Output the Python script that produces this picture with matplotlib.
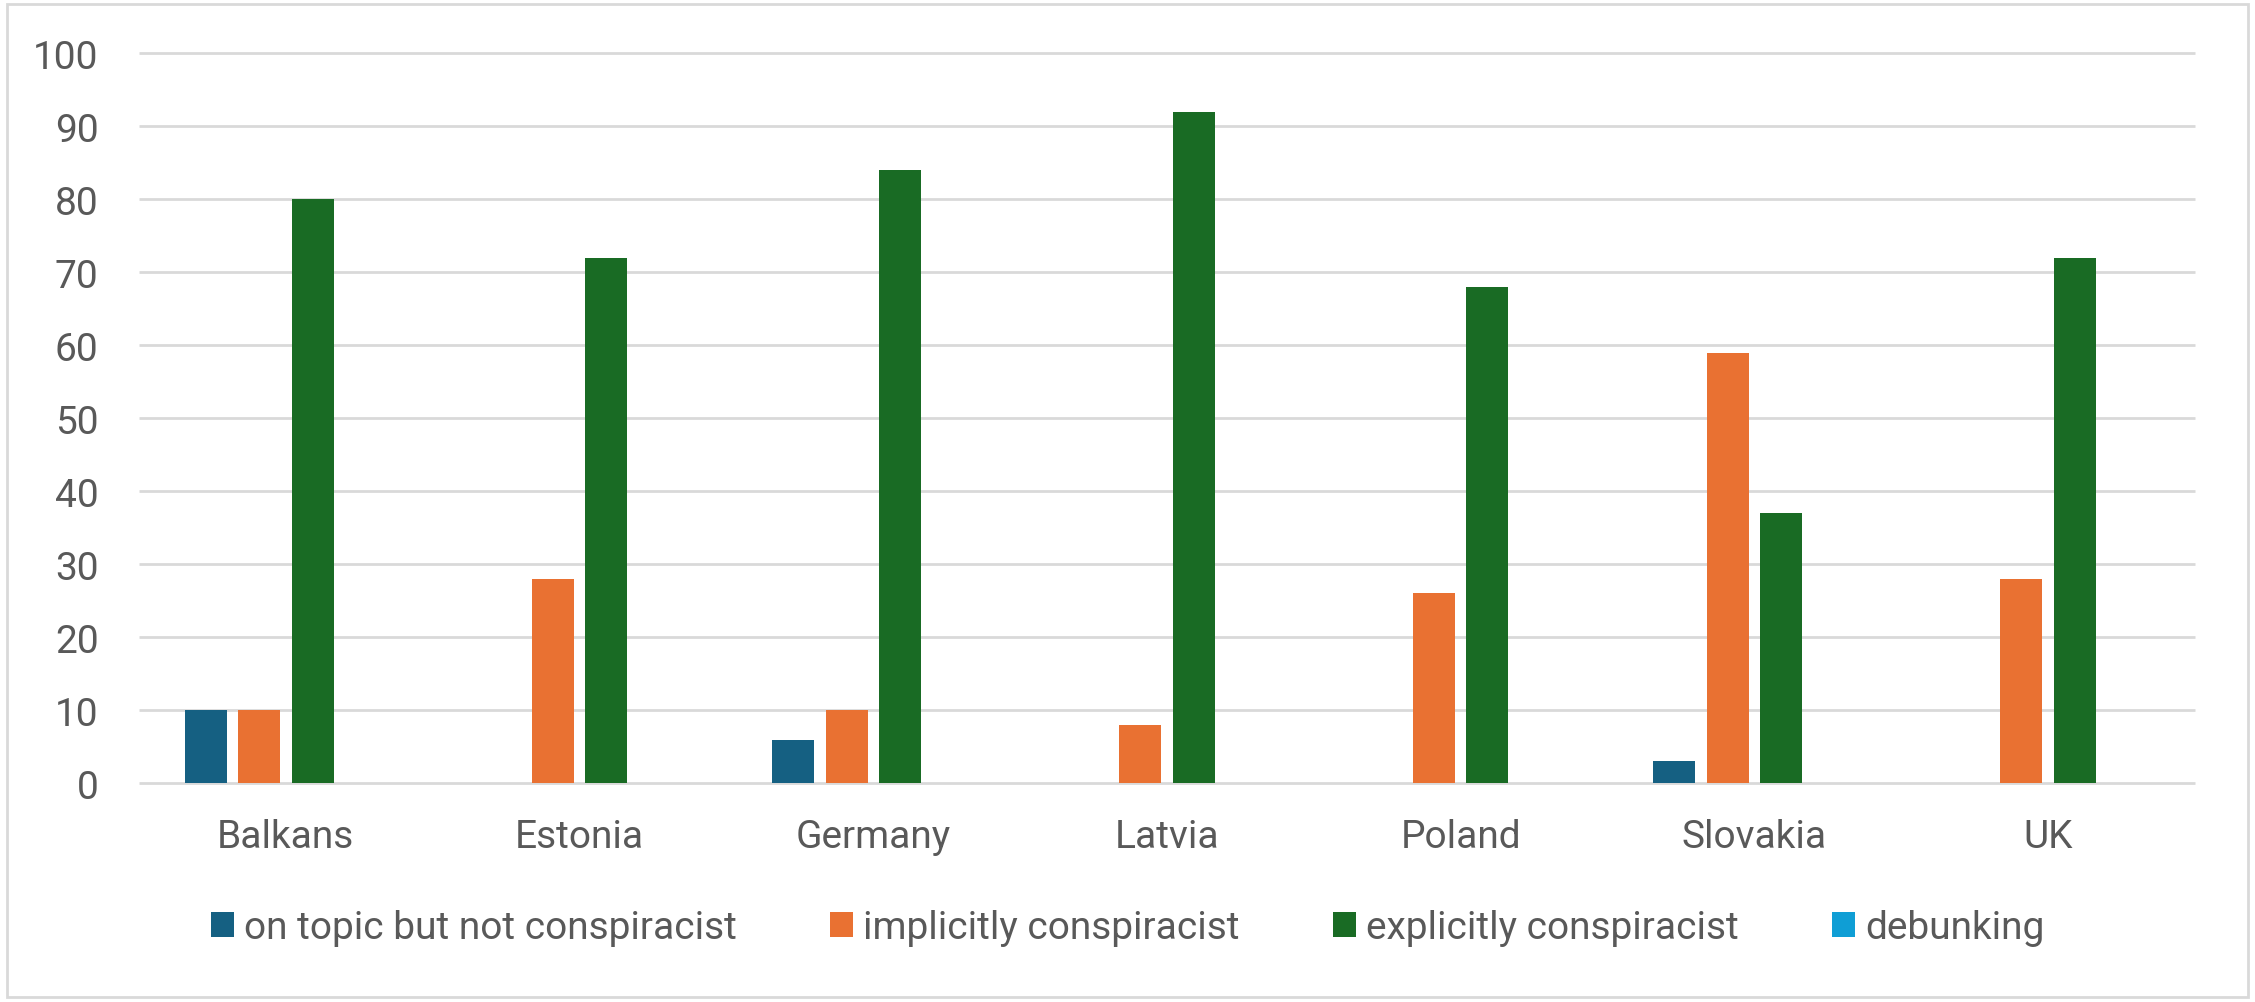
import matplotlib
matplotlib.use("Agg")
import matplotlib.pyplot as plt
import numpy as np
from matplotlib.patches import Rectangle

# values
regions = ["Balkans", "Estonia", "Germany", "Latvia", "Poland", "Slovakia", "UK"]
on_topic = [10, 0, 6, 0, 0, 3, 0]
implicit = [10, 28, 10, 8, 26, 59, 28]
explicit = [80, 72, 84, 92, 68, 37, 72]
debunking = [0, 0, 0, 0, 0, 0, 0]

series_names = ["on topic but not conspiracist", "implicitly conspiracist",
                "explicitly conspiracist", "debunking"]
series_values = [on_topic, implicit, explicit, debunking]
colors = ["#156082", "#E97132", "#196B24", "#0F9ED5"]
y_ticks = [0, 10, 20, 30, 40, 50, 60, 70, 80, 90, 100]

text_color = "#595959"
grid_color = "#D9D9D9"

plt.rcParams["font.family"] = ["Roboto", "DejaVu Sans"]

fig = plt.figure(figsize=(22.55, 10.03), dpi=100)
ax = fig.add_axes([0.0616, 0.218, 0.9118, 0.728])

x = np.arange(len(regions))
pitch = 0.182
width = 0.143
for i, (name, vals, col) in enumerate(zip(series_names, series_values, colors)):
    ax.bar(x + (i - 1.5) * pitch, vals, width=width, color=col, label=name, zorder=3)

ax.set_xlim(-0.5, len(regions) - 0.5)
ax.set_ylim(0, 100)
ax.hlines(y_ticks, -0.5, len(regions) - 0.5, colors=grid_color, linewidth=2.0,
          zorder=1, clip_on=False)

for s in ax.spines.values():
    s.set_visible(False)

ax.set_xticks(x)
ax.set_xticklabels(regions)
ax.set_yticks(y_ticks)
ax.tick_params(axis="both", length=0, labelsize=28, labelcolor=text_color)
ax.tick_params(axis="x", pad=25)
ax.tick_params(axis="y", pad=29)

fig.legend(loc="center", bbox_to_anchor=(0.5, 0.074), ncol=4, frameon=False,
           fontsize=28, labelcolor=text_color, handlelength=0.6, handleheight=0.58,
           handletextpad=0.25, columnspacing=2.4)

fig.patches.append(Rectangle((0.003, 0.005), 0.994, 0.99, transform=fig.transFigure,
                             fill=False, edgecolor=grid_color, linewidth=2.0))

fig.savefig("out.png", dpi=100, facecolor="white")
